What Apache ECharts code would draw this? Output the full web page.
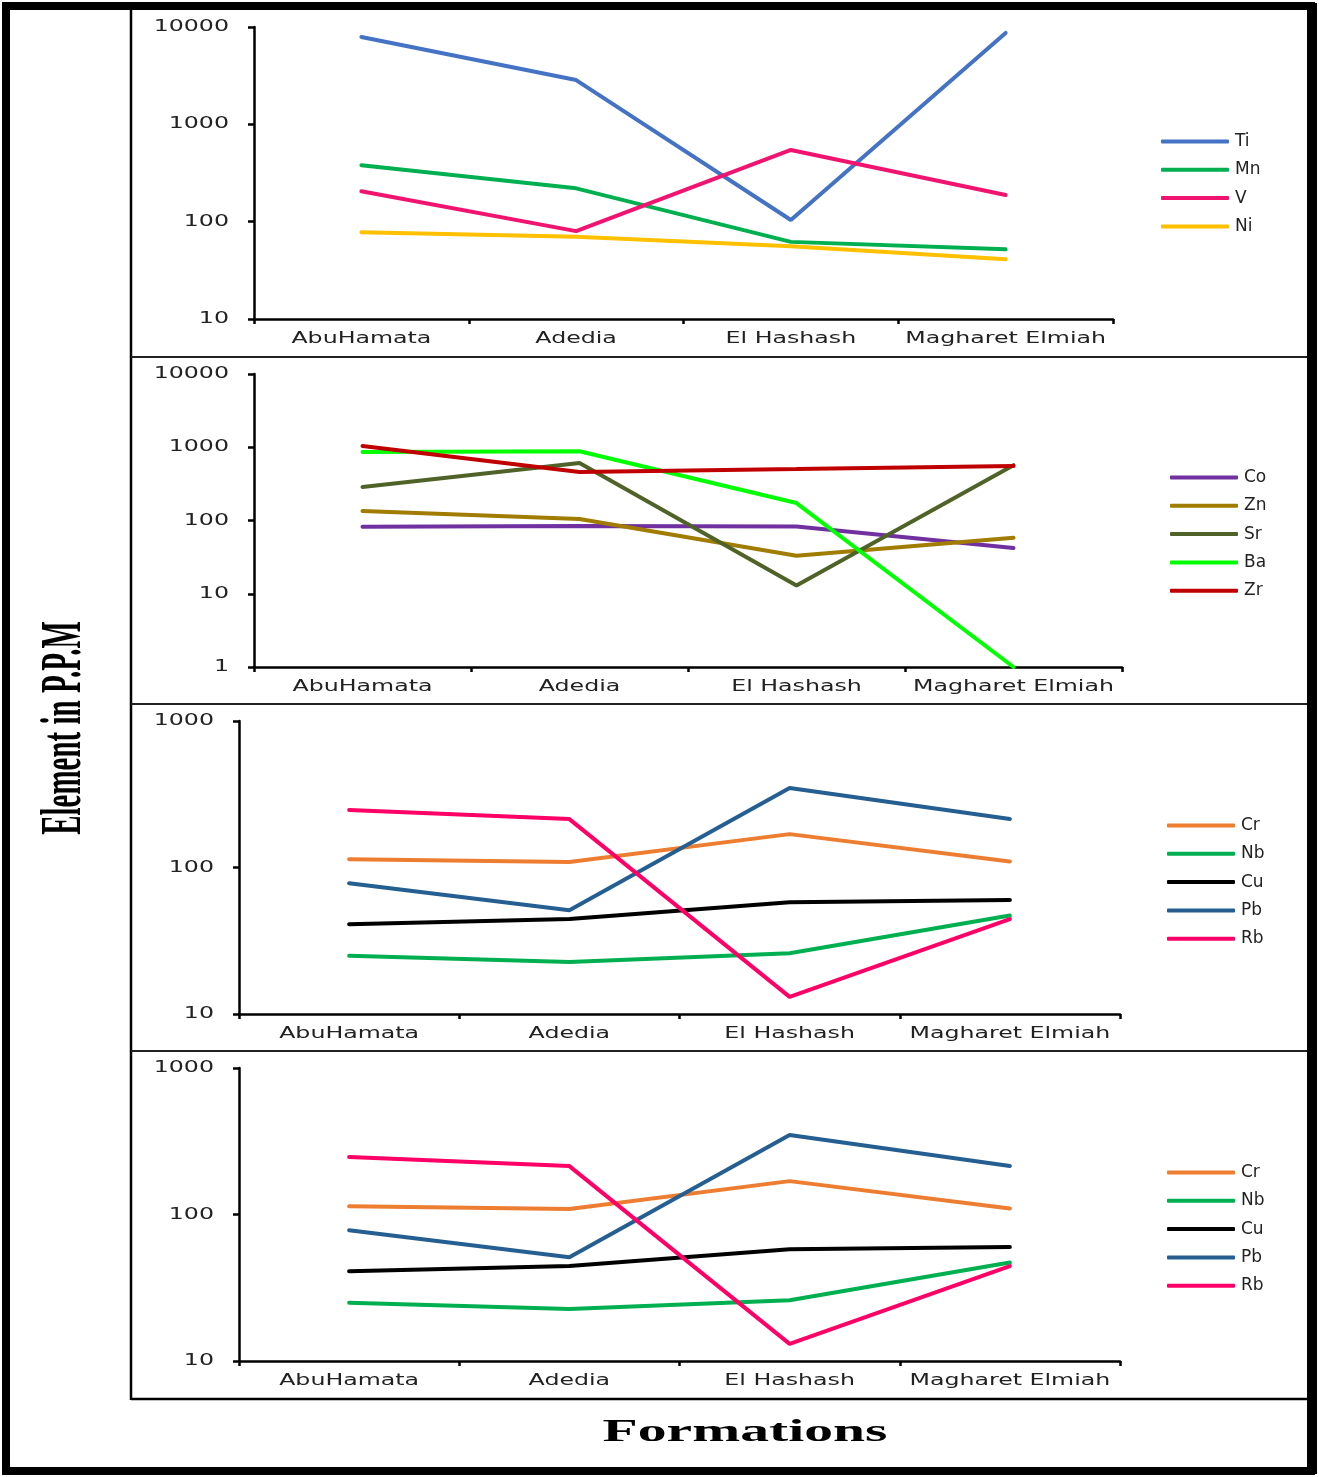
<!DOCTYPE html>
<html>
<head>
<meta charset="utf-8">
<script src="https://cdn.jsdelivr.net/npm/echarts@6/dist/echarts.min.js"></script>
<style>
html,body{margin:0;padding:0;background:#fff;}
#chart{width:1319px;height:1477px;}
</style>
</head>
<body>
<div id="chart"></div>
<script>
// ---------- data ----------
const categories = ['AbuHamata', 'Adedia', 'El Hashash', 'Magharet Elmiah'];

// panel 1
const ti = [7900, 2850, 104, 8700];
const mn = [380, 220, 62, 52];
const v  = [205, 80, 545, 188];
const ni = [78, 70, 56, 41];

// panel 2
const co = [82, 84, 83, 42];
const zn = [135, 105, 33, 58];
const sr = [287, 610, 13, 570];
const ba = [860, 880, 173, 1];
const zr = [1040, 460, 505, 555];

// panels 3 and 4
const cr = [114, 109, 169, 110];
const nb = [25, 22.6, 26, 47];
const cu = [41, 44.5, 58, 60];
const pb = [78, 51, 349, 214];
const rb = [247, 214, 13.1, 44.5];

// y tick labels of each panel
const yTicks1 = [10, 100, 1000, 10000];
const yTicks2 = [1, 10, 100, 1000, 10000];
const yTicks3 = [10, 100, 1000];
const yTicks4 = [10, 100, 1000];

const yTitle = 'Element in P.P.M';
const xTitle = 'Formations';

// ---------- styling ----------
const colors = {
  Ti: '#4472C4', Mn: '#00B050', V: '#F01470', Ni: '#FFC000',
  Co: '#7030A0', Zn: '#A07C00', Sr: '#4F6228', Ba: '#00FF00', Zr: '#C00000',
  Cr: '#ED7D31', Nb: '#00B050', Cu: '#000000', Pb: '#255E91', Rb: '#FF0066'
};

const panels = [
  { grid: { left: 254, top: 27, width: 859, height: 292 }, ticks: yTicks1,
    legend: { left: 1161, top: 133 },
    series: [['Ti', ti], ['Mn', mn], ['V', v], ['Ni', ni]] },
  { grid: { left: 254, top: 374, width: 868, height: 293 }, ticks: yTicks2,
    legend: { left: 1170, top: 469 },
    series: [['Co', co], ['Zn', zn], ['Sr', sr], ['Ba', ba], ['Zr', zr]] },
  { grid: { left: 239, top: 721, width: 881, height: 293 }, ticks: yTicks3,
    legend: { left: 1167, top: 817 },
    series: [['Cr', cr], ['Nb', nb], ['Cu', cu], ['Pb', pb], ['Rb', rb]] },
  { grid: { left: 239, top: 1068, width: 881, height: 293 }, ticks: yTicks4,
    legend: { left: 1167, top: 1164 },
    series: [['Cr', cr], ['Nb', nb], ['Cu', cu], ['Pb', pb], ['Rb', rb]] }
];

const axisLineStyle = { color: '#000', width: 2.5 };
const LABEL_FONT = 'DejaVu Sans';
const LABEL_SIZE = 16;
const LABEL_STRETCH = 1.48;   // the reference text is drawn horizontally stretched

const option = {
  animation: false,
  backgroundColor: '#fff',
  grid: [], xAxis: [], yAxis: [], legend: [], series: [],
  graphic: []
};

panels.forEach((p, i) => {
  option.grid.push(Object.assign({ containLabel: false }, p.grid));
  option.xAxis.push({
    type: 'category', gridIndex: i, data: categories, boundaryGap: true,
    axisLine: { lineStyle: axisLineStyle },
    axisTick: { show: true, length: 5, lineStyle: axisLineStyle },
    axisLabel: { show: false },
    splitLine: { show: false }
  });
  option.yAxis.push({
    type: 'log', logBase: 10, gridIndex: i,
    min: p.ticks[0], max: p.ticks[p.ticks.length - 1],
    axisLine: { show: true, lineStyle: axisLineStyle },
    axisTick: { show: true, length: 6, lineStyle: axisLineStyle },
    minorTick: { show: false },
    splitLine: { show: false },
    axisLabel: { show: false }
  });
  option.legend.push({
    orient: 'vertical', left: p.legend.left, top: p.legend.top, padding: 0,
    itemWidth: 68, itemHeight: 4, itemGap: 11.3, icon: 'roundRect',
    data: p.series.map(s => s[0]),
    textStyle: { fontFamily: LABEL_FONT, fontSize: 17, color: '#222', lineHeight: 16, padding: [0, 0, 0, 1] }
  });
  p.series.forEach(([name, data]) => {
    option.series.push({
      type: 'line', name: name, xAxisIndex: i, yAxisIndex: i, data: data,
      symbol: 'none', smooth: false,
      lineStyle: { width: 4, color: colors[name], cap: 'round' },
      itemStyle: { color: colors[name] }
    });
  });
});

function txtStyle(text, align, vAlign, size, family, weight) {
  return {
    text: text, fontFamily: family || LABEL_FONT, fontSize: size || LABEL_SIZE,
    fontWeight: weight || 'normal', fill: '#222',
    textAlign: align, textVerticalAlign: vAlign, align: align, verticalAlign: vAlign
  };
}

// frames and titles
const frameElements = [
  { id: 'outer', type: 'rect', silent: true, shape: { x: 6, y: 6, width: 1305, height: 1465 },
    style: { fill: null, stroke: '#000', lineWidth: 8 } },
  { id: 'outerR', type: 'line', silent: true, shape: { x1: 1312, y1: 3, x2: 1312, y2: 1474 },
    style: { stroke: '#000', lineWidth: 10 } },
  { id: 'innerL', type: 'line', silent: true, shape: { x1: 131, y1: 8, x2: 131, y2: 1400 },
    style: { stroke: '#000', lineWidth: 2.5 } },
  { id: 'innerB', type: 'line', silent: true, shape: { x1: 131, y1: 1399, x2: 1307, y2: 1399 },
    style: { stroke: '#000', lineWidth: 2.5 } },
  { id: 'sep1', type: 'line', silent: true, shape: { x1: 131, y1: 357, x2: 1307, y2: 357 },
    style: { stroke: '#222', lineWidth: 2 } },
  { id: 'sep2', type: 'line', silent: true, shape: { x1: 131, y1: 704, x2: 1307, y2: 704 },
    style: { stroke: '#222', lineWidth: 2 } },
  { id: 'sep3', type: 'line', silent: true, shape: { x1: 131, y1: 1051, x2: 1307, y2: 1051 },
    style: { stroke: '#222', lineWidth: 2 } },
  { id: 'ytitle', type: 'text', silent: true, x: 65, y: 728, rotation: Math.PI / 2, scaleY: 2,
    style: Object.assign(txtStyle(yTitle, 'center', 'middle', 29, 'Liberation Serif', 'bold'), { fill: '#000' }) },
  { id: 'xtitle', type: 'text', silent: true, x: 745, y: 1433, scaleX: 1.8,
    style: Object.assign(txtStyle(xTitle, 'center', 'middle', 32, 'Liberation Serif', 'bold'), { fill: '#000' }) }
];
option.graphic = frameElements;

const chart = echarts.init(document.getElementById('chart'), null, { renderer: 'canvas' });
chart.setOption(option);

// Axis tick labels: positioned through the library's own scales, drawn stretched
const labelElements = [];
panels.forEach((p, i) => {
  categories.forEach((c, k) => {
    const pt = chart.convertToPixel({ gridIndex: i }, [c, p.ticks[0]]);
    labelElements.push({
      id: 'xl' + i + '_' + k, type: 'text', silent: true,
      x: pt[0], y: pt[1] + 12, scaleX: LABEL_STRETCH,
      style: txtStyle(c, 'center', 'top')
    });
  });
  p.ticks.forEach((t, k) => {
    const pt = chart.convertToPixel({ gridIndex: i }, [categories[0], t]);
    const left = p.grid.left;
    labelElements.push({
      id: 'yl' + i + '_' + k, type: 'text', silent: true,
      x: left - 25, y: pt[1], scaleX: LABEL_STRETCH,
      style: txtStyle(String(t), 'right', 'middle')
    });
  });
});
chart.setOption({ graphic: frameElements.concat(labelElements) });
</script>
</body>
</html>
